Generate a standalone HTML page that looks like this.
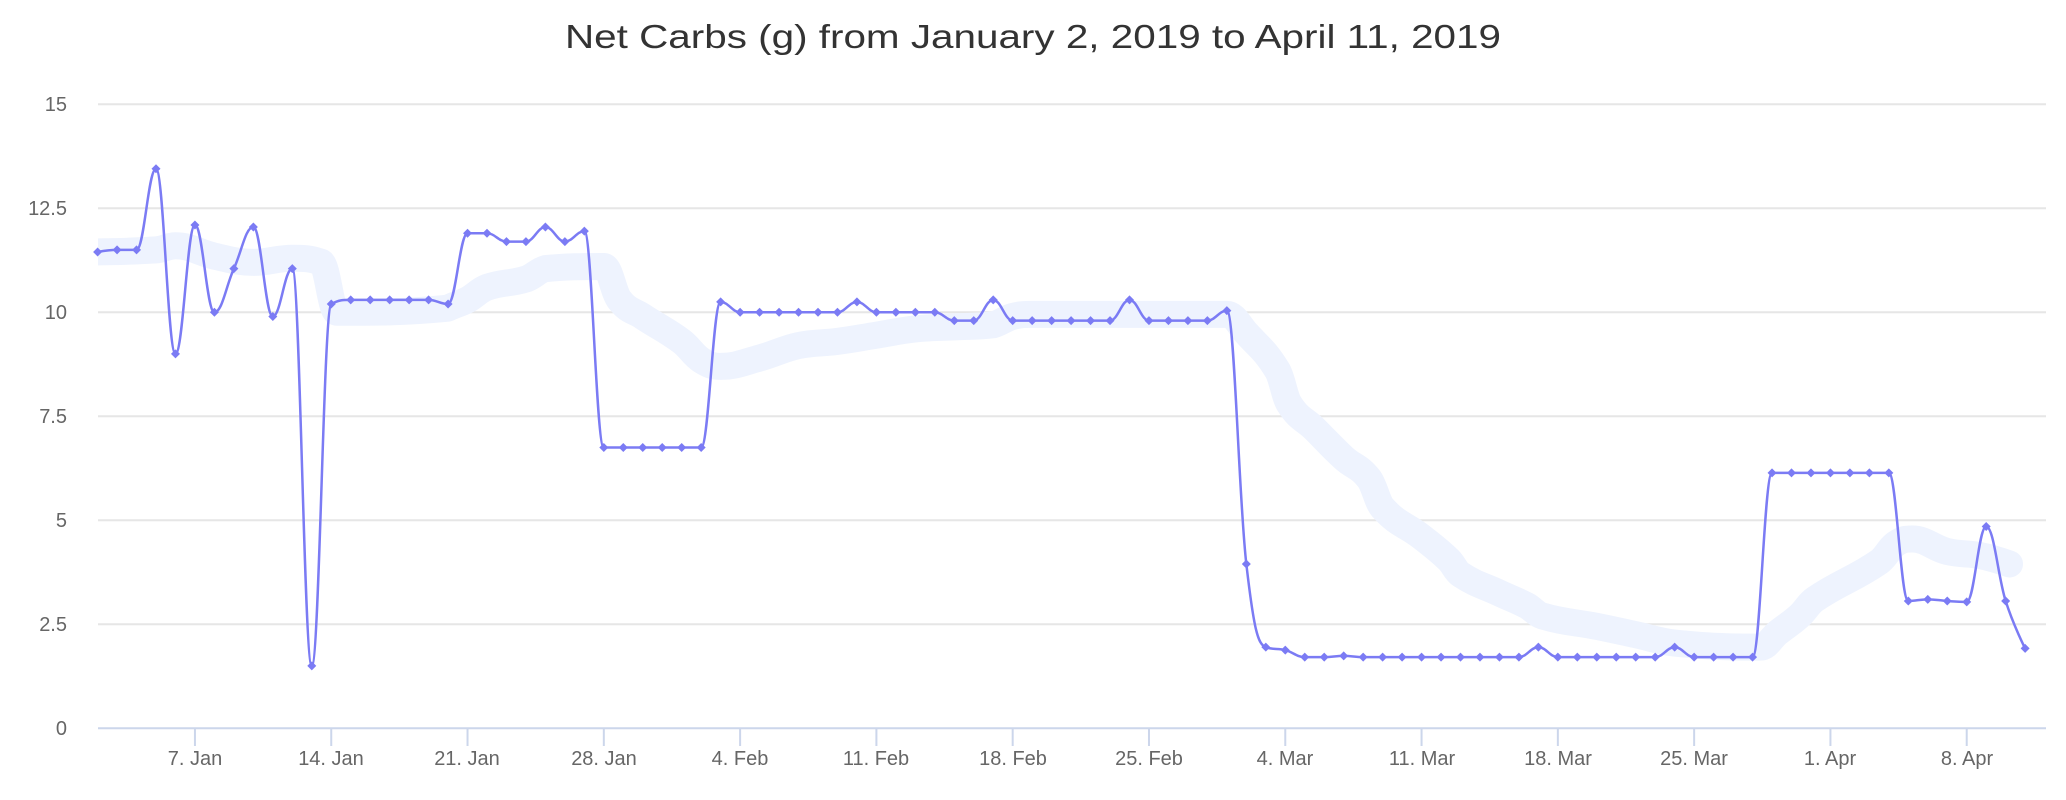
<!DOCTYPE html>
<html><head><meta charset="utf-8"><style>
html,body{margin:0;padding:0;background:#fff;}
svg{display:block;font-family:"Liberation Sans",sans-serif;}
</style></head><body>
<svg id="c" width="2066" height="800" viewBox="0 0 2066 800" xmlns="http://www.w3.org/2000/svg">
<defs><clipPath id="pa"><rect x="98" y="90" width="1950" height="640"/></clipPath></defs>
<rect width="2066" height="800" fill="#fff"/>
<text x="1033" y="48" text-anchor="middle" font-size="33" fill="#333" textLength="936" lengthAdjust="spacingAndGlyphs">Net Carbs (g) from January 2, 2019 to April 11, 2019</text>
<g stroke="#e6e6e6" stroke-width="2">
<line x1="98" x2="2046" y1="104.3" y2="104.3"/>
<line x1="98" x2="2046" y1="208.3" y2="208.3"/>
<line x1="98" x2="2046" y1="312.3" y2="312.3"/>
<line x1="98" x2="2046" y1="416.3" y2="416.3"/>
<line x1="98" x2="2046" y1="520.3" y2="520.3"/>
<line x1="98" x2="2046" y1="624.3" y2="624.3"/>
</g>
<g font-size="20" fill="#666" text-anchor="end">
<text x="67" y="111">15</text>
<text x="67" y="215">12.5</text>
<text x="67" y="319">10</text>
<text x="67" y="423">7.5</text>
<text x="67" y="527">5</text>
<text x="67" y="631">2.5</text>
<text x="67" y="735">0</text>
</g>
<line x1="98" x2="2046" y1="728.3" y2="728.3" stroke="#ccd6eb" stroke-width="2"/>
<g id="ticks" stroke="#ccd6eb" stroke-width="2"></g>
<g font-size="20" fill="#666" text-anchor="middle">
<text x="195" y="765">7. Jan</text>
<text x="331" y="765">14. Jan</text>
<text x="467" y="765">21. Jan</text>
<text x="604" y="765">28. Jan</text>
<text x="740" y="765">4. Feb</text>
<text x="876" y="765">11. Feb</text>
<text x="1013" y="765">18. Feb</text>
<text x="1149" y="765">25. Feb</text>
<text x="1285" y="765">4. Mar</text>
<text x="1422" y="765">11. Mar</text>
<text x="1558" y="765">18. Mar</text>
<text x="1694" y="765">25. Mar</text>
<text x="1830" y="765">1. Apr</text>
<text x="1967" y="765">8. Apr</text>
</g>
<path id="band" clip-path="url(#pa)" fill="none" stroke="#eef3fe" stroke-width="27" stroke-linecap="round" stroke-linejoin="round"/>
<path id="line" fill="none" stroke="#7b7bf4" stroke-width="2.5"/>
<g id="marks" fill="#7b7bf4"></g>
</svg>
<script>
var X=function(d){return 97.6+d*19.47;}, Y=function(v){return 728.3-v*41.6;};
var vals=[11.45,11.5,11.5,13.45,9.0,12.1,10.0,11.05,12.05,9.9,11.05,1.5,10.2,10.3,10.3,10.3,10.3,10.3,10.2,11.9,11.9,11.7,11.7,12.05,11.7,11.95,6.75,6.75,6.75,6.75,6.75,6.75,10.25,10.0,10.0,10.0,10.0,10.0,10.0,10.25,10.0,10.0,10.0,10.0,9.8,9.8,10.3,9.8,9.8,9.8,9.8,9.8,9.8,10.3,9.8,9.8,9.8,9.8,10.04,3.95,1.95,1.88,1.71,1.71,1.74,1.71,1.71,1.71,1.71,1.71,1.71,1.71,1.71,1.71,1.95,1.71,1.71,1.71,1.71,1.71,1.71,1.95,1.71,1.71,1.71,1.71,6.14,6.14,6.14,6.14,6.14,6.14,6.14,3.06,3.1,3.06,3.04,4.85,3.06,1.92];
function spline(pts){
  var s=1.5,den=2.5,d="M"+pts[0][0]+" "+pts[0][1];
  var conts=[];
  for(var i=0;i<pts.length;i++){
    var p=pts[i];
    if(i==0||i==pts.length-1){conts.push([p[0],p[1],p[0],p[1]]);continue;}
    var l=pts[i-1],n=pts[i+1];
    var lx=(s*p[0]+l[0])/den,ly=(s*p[1]+l[1])/den,rx=(s*p[0]+n[0])/den,ry=(s*p[1]+n[1])/den;
    var c=((ry-ly)*(rx-p[0]))/(rx-lx)+p[1]-ry;ly+=c;ry+=c;
    if(ly>l[1]&&ly>p[1]){ly=Math.max(l[1],p[1]);ry=2*p[1]-ly;}
    else if(ly<l[1]&&ly<p[1]){ly=Math.min(l[1],p[1]);ry=2*p[1]-ly;}
    if(ry>n[1]&&ry>p[1]){ry=Math.max(n[1],p[1]);ly=2*p[1]-ry;}
    else if(ry<n[1]&&ry<p[1]){ry=Math.min(n[1],p[1]);ly=2*p[1]-ry;}
    conts.push([lx,ly,rx,ry]);
  }
  for(var i=1;i<pts.length;i++){
    var a=conts[i-1],b=conts[i];
    d+=" C"+a[2].toFixed(2)+" "+a[3].toFixed(2)+" "+b[0].toFixed(2)+" "+b[1].toFixed(2)+" "+pts[i][0].toFixed(2)+" "+pts[i][1].toFixed(2);
  }
  return d;
}
var pts=vals.map(function(v,i){return [X(i),Y(v)];});
document.getElementById("line").setAttribute("d",spline(pts));
var NS="http://www.w3.org/2000/svg",g=document.getElementById("marks");
pts.forEach(function(p){var e=document.createElementNS(NS,"path");e.setAttribute("d","M"+p[0]+" "+(p[1]-4.5)+" L"+(p[0]+4.5)+" "+p[1]+" L"+p[0]+" "+(p[1]+4.5)+" L"+(p[0]-4.5)+" "+p[1]+" Z");g.appendChild(e);});
var tg=document.getElementById("ticks");
[5,12,19,26,33,40,47,54,61,68,75,82,89,96].forEach(function(d){var e=document.createElementNS(NS,"line");var x=X(d);e.setAttribute("x1",x);e.setAttribute("x2",x);e.setAttribute("y1",728);e.setAttribute("y2",746);tg.appendChild(e);});
var band=[[-1,11.45],[3,11.5],[4,11.6],[6,11.35],[8,11.2],[10,11.3],[11.5,11.2],[12.3,10.0],[18,10.1],[19,10.3],[20,10.6],[22,10.8],[23,11.05],[26,11.1],[26.8,10.3],[28,9.9],[30,9.3],[31,8.85],[32,8.7],[34,8.9],[36,9.2],[38,9.3],[40,9.45],[42,9.6],[44,9.65],[46,9.7],[47,9.9],[48,9.95],[58,9.95],[59,9.5],[60.6,8.6],[61.2,7.8],[62.5,7.2],[64,6.5],[65.3,6.0],[66,5.3],[68,4.6],[69.4,4.05],[70,3.7],[72,3.25],[73.4,2.95],[74.2,2.7],[77,2.45],[79,2.25],[81,2.05],[85.4,1.95],[86.3,2.3],[87.4,2.7],[88.2,3.1],[91.5,4.0],[92.4,4.45],[93.2,4.55],[95,4.25],[96.7,4.15],[98.2,3.95]];
document.getElementById("band").setAttribute("d",spline(band.map(function(b){return [X(b[0]),Y(b[1])];})));
</script>
</body></html>
